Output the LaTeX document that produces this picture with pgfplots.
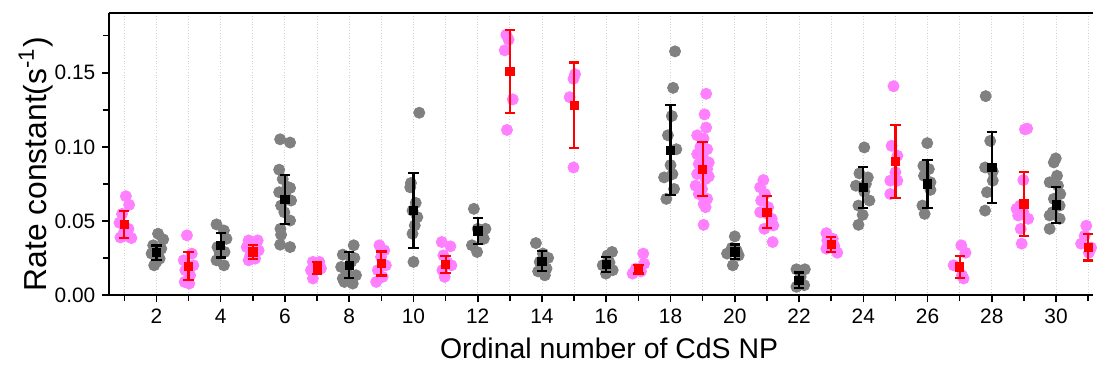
\documentclass[border=0pt]{standalone}
\usepackage{pgfplots}
\pgfplotsset{compat=1.18}
\usepackage{fontspec}
\setmainfont{Liberation Sans}
\definecolor{ptgray}{RGB}{128,128,128}
\definecolor{ptmag}{RGB}{255,128,255}
\definecolor{mred}{RGB}{255,0,0}
\begin{document}
\begin{tikzpicture}
\begin{axis}[
  scale only axis, width=495pt, height=141.75pt,
  xmin=0.533, xmax=31.15, ymin=0, ymax=0.19,
  axis x line*=bottom, axis y line*=left,
  axis line style={line width=1pt},
  tick align=outside,
  major tick length=3.5pt, minor tick length=3pt,
  every tick/.style={black, line width=0.8pt},
  xtick={2,4,...,30}, minor xtick={1,3,...,31},
  ytick={0,0.05,0.10,0.15}, minor ytick={0.025,0.075,0.125,0.175},
  xmajorgrids, xminorgrids,
  grid style={densely dotted, black!18, line width=0.5pt},
  ticklabel style={font=\fontsize{10.5}{12}\selectfont},
  yticklabel style={/pgf/number format/.cd, fixed, fixed zerofill, precision=2},
  /pgf/number format/assume math mode=true,
  xlabel={Ordinal number of CdS NP},
  ylabel={Rate constant(s\textsuperscript{-1})},
  xlabel style={font=\fontsize{14.3}{16}\selectfont, xshift=4pt},
  ylabel style={font=\fontsize{16}{18}\selectfont, yshift=-6pt, xshift=-5pt},
  clip=false, clip mode=individual,
]
% gray points (even groups)
\addplot[only marks, mark=*, mark size=2.8pt, color=ptgray] coordinates {
(2.05,0.0414)(2.21,0.0376)(1.90,0.0336)(2.15,0.0313)(1.85,0.028)(2.10,0.0246)(1.93,0.0201)(2.0,0.0225)
(3.87,0.0477)(4.10,0.0436)(4.18,0.038)(3.90,0.0324)(4.12,0.0291)(3.87,0.0235)(4.10,0.0201)(3.97,0.028)
(5.85,0.1051)(6.16,0.1029)(5.82,0.0846)(5.93,0.0783)(6.16,0.0723)(5.82,0.0694)(6.19,0.0638)(5.88,0.0604)(5.98,0.0559)(6.16,0.0503)(5.86,0.0447)(5.88,0.0407)(5.85,0.034)(6.16,0.0324)(6.08,0.073)(6.03,0.066)
(8.14,0.0336)(7.80,0.0273)(8.06,0.0224)(7.75,0.019)(7.95,0.0145)(8.21,0.0134)(7.85,0.0089)(8.11,0.0078)(7.80,0.0112)(8.16,0.025)
(10.18,0.123)(9.92,0.0756)(9.90,0.0727)(10.07,0.0622)(9.97,0.057)(10.12,0.0526)(10.04,0.047)(9.97,0.0414)(10.0,0.0224)
(11.88,0.0582)(12.0,0.0447)(12.24,0.0447)(12.19,0.038)(11.82,0.0336)(11.98,0.0291)
(13.81,0.0351)(14.03,0.028)(14.19,0.0251)(13.93,0.0224)(14.14,0.0179)(14.09,0.0134)(13.88,0.016)
(16.18,0.0291)(16.04,0.0268)(15.89,0.0201)(16.20,0.0168)(15.99,0.0145)(16.1,0.022)
(18.14,0.1644)(18.08,0.1398)(18.04,0.1208)(17.92,0.1078)(18.18,0.0984)(18.0,0.0877)(18.06,0.0816)(17.80,0.0794)(18.11,0.0716)(17.87,0.0649)
(20.0,0.0396)(19.91,0.0318)(20.12,0.0268)(19.76,0.028)(19.94,0.0201)(20.06,0.030)
(21.92,0.0174)(22.18,0.0174)(22.05,0.0123)(22.16,0.0067)(21.92,0.0056)
(24.03,0.0996)(23.88,0.0821)(24.14,0.0794)(23.77,0.0738)(24.03,0.0698)(24.19,0.0638)(23.85,0.0604)(23.98,0.0541)(23.85,0.0474)(24.08,0.075)
(25.99,0.1025)(25.87,0.0872)(25.89,0.0805)(26.09,0.0761)(26.09,0.071)(25.84,0.0604)(25.91,0.0548)(26.04,0.085)
(27.81,0.1342)(27.95,0.104)(27.79,0.0861)(28.03,0.0835)(28.03,0.0772)(27.85,0.0694)(27.79,0.057)
(29.99,0.0922)(29.93,0.0895)(30.03,0.0805)(29.80,0.0761)(30.06,0.0738)(30.13,0.0682)(29.93,0.0649)(30.11,0.0604)(29.89,0.0559)(30.11,0.0515)(29.80,0.0447)(29.80,0.0537)
};
% magenta points (odd groups)
\addplot[only marks, mark=*, mark size=2.8pt, color=ptmag] coordinates {
(1.05,0.0667)(1.15,0.0609)(0.93,0.0548)(0.85,0.0488)(1.13,0.0447)(0.98,0.0418)(0.88,0.0389)(1.22,0.0385)(1.08,0.0400)
(2.95,0.0403)(3.10,0.028)(2.85,0.0235)(3.15,0.0201)(2.90,0.0168)(3.05,0.0134)(2.88,0.0089)(3.02,0.0078)
(4.87,0.0369)(5.15,0.0369)(4.81,0.0324)(5.18,0.0302)(4.92,0.0268)(5.07,0.0246)(4.87,0.0235)(5.0,0.0340)
(7.07,0.0224)(6.87,0.0224)(6.81,0.0168)(6.87,0.0112)(7.12,0.018)
(8.94,0.0336)(9.09,0.0302)(8.99,0.0257)(9.14,0.0201)(8.89,0.0168)(9.04,0.0123)(8.84,0.0089)
(10.88,0.0358)(11.15,0.0329)(10.93,0.0268)(11.18,0.0201)(10.90,0.0168)(10.97,0.0123)(11.05,0.022)
(12.89,0.1756)(12.96,0.1723)(12.84,0.1651)(13.09,0.132)(12.91,0.1114)
(15.03,0.149)(14.98,0.1459)(14.86,0.1335)(14.98,0.0861)
(17.15,0.028)(17.18,0.0212)(16.92,0.0179)(16.82,0.0145)(17.08,0.016)
(19.11,0.1358)(19.06,0.1219)(19.11,0.113)(18.83,0.1078)(19.03,0.1056)(19.14,0.0984)(18.83,0.0951)(19.03,0.0917)(18.88,0.0884)(19.14,0.085)(18.83,0.0817)(19.09,0.0783)(18.78,0.0738)(18.98,0.0716)(18.88,0.0682)(19.14,0.0649)(19.03,0.0615)(19.09,0.0593)(19.03,0.0474)(19.19,0.0895)(19.19,0.08)(18.93,0.1)
(20.89,0.0776)(20.79,0.0727)(20.94,0.0682)(20.82,0.0638)(21.04,0.0593)(20.79,0.0559)(21.15,0.0515)(21.20,0.047)(20.92,0.0447)(21.18,0.0358)(21.0,0.055)
(22.85,0.0418)(23.05,0.038)(22.88,0.0369)(22.85,0.0313)(23.19,0.0286)(23.1,0.033)
(24.94,0.1409)(24.88,0.1007)(25.06,0.094)(25.0,0.0828)(24.84,0.0772)(25.06,0.0772)(24.84,0.0682)
(27.05,0.0336)(27.18,0.0286)(26.81,0.0201)(27.07,0.0134)(27.12,0.0112)
(29.10,0.1123)(29.03,0.1118)(28.98,0.0776)(28.77,0.0582)(28.98,0.0559)(29.13,0.0515)(28.90,0.0447)(28.93,0.0347)(28.82,0.0537)(28.88,0.0604)
(30.94,0.0468)(30.78,0.0347)(31.02,0.0286)(31.09,0.032)(30.89,0.04)
};
% black means
\addplot[only marks, mark=square*, mark size=2.1pt, color=black,
  error bars/.cd, y dir=both, y explicit,
  error bar style={line width=1.1pt, black},
  error mark options={rotate=90, mark size=2.6pt, line width=1.1pt, black}] coordinates {
(2,0.0286)+-(0,0.0049)
(4,0.0336)+-(0,0.0082)
(6,0.0644)+-(0,0.0166)
(8,0.0201)+-(0,0.0088)
(10,0.057)+-(0,0.0253)
(12,0.0432)+-(0,0.0088)
(14,0.0228)+-(0,0.0067)
(16,0.0208)+-(0,0.005)
(18,0.0978)+-(0,0.0305)
(20,0.0291)+-(0,0.005)
(22,0.0101)+-(0,0.0052)
(24,0.0725)+-(0,0.0138)
(26,0.0749)+-(0,0.0163)
(28,0.0861)+-(0,0.0238)
(30,0.0609)+-(0,0.0121)
};
% red means
\addplot[only marks, mark=square*, mark size=2.1pt, color=mred,
  error bars/.cd, y dir=both, y explicit,
  error bar style={line width=1.1pt, mred},
  error mark options={rotate=90, mark size=2.6pt, line width=1.1pt, mred}] coordinates {
(1,0.0477)+-(0,0.0092)
(3,0.0195)+-(0,0.0094)
(5,0.0291)+-(0,0.0045)
(7,0.0183)+-(0,0.0043)
(9,0.0213)+-(0,0.0081)
(11,0.0208)+-(0,0.0058)
(13,0.151)+-(0,0.028)
(15,0.128)+-(0,0.0289)
(17,0.0174)+-(0,0.0028)
(19,0.085)+-(0,0.0184)
(21,0.0559)+-(0,0.0108)
(23,0.0342)+-(0,0.0049)
(25,0.0902)+-(0,0.0246)
(27,0.019)+-(0,0.0074)
(29,0.0615)+-(0,0.0218)
(31,0.0324)+-(0,0.009)
};
\draw[line width=1pt] (rel axis cs:0,1) -- (rel axis cs:1,1);
\end{axis}
\path[use as bounding box] (-55pt,-35pt) rectangle (495pt,148.5pt);
\end{tikzpicture}
\end{document}
